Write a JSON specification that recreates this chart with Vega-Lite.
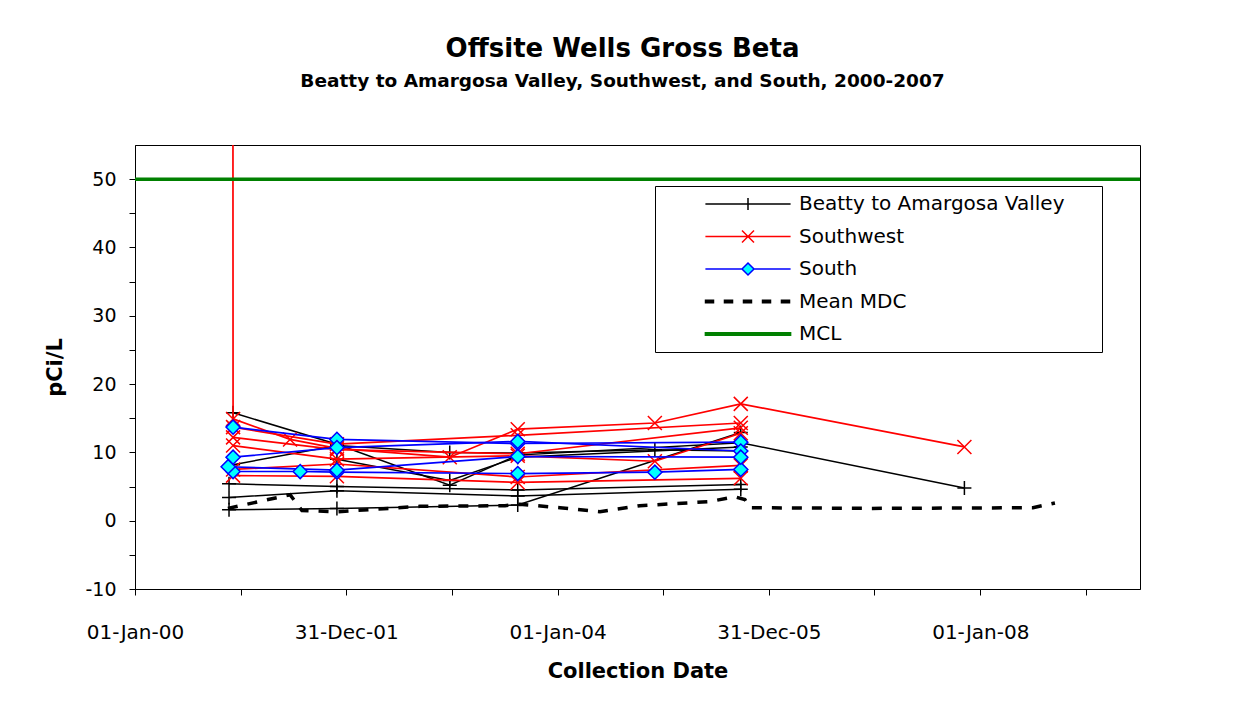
{
  "$schema": "https://vega.github.io/schema/vega-lite/v6.json",
  "autosize": "none",
  "width": 1005,
  "height": 444,
  "padding": {"left": 135, "top": 145, "right": 95, "bottom": 117},
  "background": "#ffffff",
  "title": {
    "text": "Offsite Wells Gross Beta",
    "subtitle": "Beatty to Amargosa Valley, Southwest, and South, 2000-2007",
    "anchor": "middle",
    "frame": "group",
    "dx": -15,
    "offset": 55,
    "font": "DejaVu Sans",
    "fontSize": 26,
    "fontWeight": "bold",
    "color": "#000000",
    "subtitleFont": "DejaVu Sans",
    "subtitleFontSize": 18.5,
    "subtitleFontWeight": "bold",
    "subtitleColor": "#000000",
    "subtitlePadding": 10
  },
  "data": {
    "values": [
      {"series": "Beatty to Amargosa Valley", "well": "B1", "date": "2000-12-05", "value": 15.8},
      {"series": "Beatty to Amargosa Valley", "well": "B1", "date": "2001-11-29", "value": 11.2},
      {"series": "Beatty to Amargosa Valley", "well": "B1", "date": "2002-12-24", "value": 5.2},
      {"series": "Beatty to Amargosa Valley", "well": "B1", "date": "2003-08-16", "value": 9.6},
      {"series": "Beatty to Amargosa Valley", "well": "B1", "date": "2005-09-25", "value": 11.4},
      {"series": "Beatty to Amargosa Valley", "well": "B1", "date": "2007-11-07", "value": 4.8},
      {"series": "Beatty to Amargosa Valley", "well": "B2", "date": "2000-12-05", "value": 8.2},
      {"series": "Beatty to Amargosa Valley", "well": "B2", "date": "2001-11-29", "value": 11.0},
      {"series": "Beatty to Amargosa Valley", "well": "B2", "date": "2002-12-24", "value": 10.0},
      {"series": "Beatty to Amargosa Valley", "well": "B2", "date": "2003-08-16", "value": 9.9},
      {"series": "Beatty to Amargosa Valley", "well": "B2", "date": "2004-12-02", "value": 10.4},
      {"series": "Beatty to Amargosa Valley", "well": "B2", "date": "2005-09-25", "value": 10.2},
      {"series": "Beatty to Amargosa Valley", "well": "B3", "date": "2001-11-29", "value": 9.0},
      {"series": "Beatty to Amargosa Valley", "well": "B3", "date": "2002-12-24", "value": 5.9},
      {"series": "Beatty to Amargosa Valley", "well": "B3", "date": "2003-08-16", "value": 9.3},
      {"series": "Beatty to Amargosa Valley", "well": "B3", "date": "2005-09-25", "value": 10.8},
      {"series": "Beatty to Amargosa Valley", "well": "B4", "date": "2000-11-21", "value": 5.4},
      {"series": "Beatty to Amargosa Valley", "well": "B4", "date": "2001-11-29", "value": 5.0},
      {"series": "Beatty to Amargosa Valley", "well": "B4", "date": "2003-08-16", "value": 4.5},
      {"series": "Beatty to Amargosa Valley", "well": "B4", "date": "2005-09-25", "value": 5.3},
      {"series": "Beatty to Amargosa Valley", "well": "B5", "date": "2000-11-21", "value": 3.4},
      {"series": "Beatty to Amargosa Valley", "well": "B5", "date": "2001-11-29", "value": 4.4},
      {"series": "Beatty to Amargosa Valley", "well": "B5", "date": "2003-08-16", "value": 3.6},
      {"series": "Beatty to Amargosa Valley", "well": "B5", "date": "2005-09-25", "value": 4.6},
      {"series": "Beatty to Amargosa Valley", "well": "B6", "date": "2000-11-21", "value": 1.6},
      {"series": "Beatty to Amargosa Valley", "well": "B6", "date": "2001-11-29", "value": 1.8},
      {"series": "Beatty to Amargosa Valley", "well": "B6", "date": "2003-08-16", "value": 2.3},
      {"series": "Beatty to Amargosa Valley", "well": "B6", "date": "2005-09-25", "value": 12.9},
      {"series": "Southwest", "well": "S1", "date": "2000-12-04", "value": 120},
      {"series": "Southwest", "well": "S1", "date": "2000-12-05", "value": 14.9},
      {"series": "Southwest", "well": "S1", "date": "2001-06-20", "value": 11.9},
      {"series": "Southwest", "well": "S1", "date": "2001-11-29", "value": 10.6},
      {"series": "Southwest", "well": "S1", "date": "2002-12-24", "value": 9.3},
      {"series": "Southwest", "well": "S1", "date": "2003-08-16", "value": 13.4},
      {"series": "Southwest", "well": "S1", "date": "2004-12-02", "value": 14.3},
      {"series": "Southwest", "well": "S1", "date": "2005-09-25", "value": 17.1},
      {"series": "Southwest", "well": "S1", "date": "2007-11-07", "value": 10.8},
      {"series": "Southwest", "well": "S2", "date": "2000-12-05", "value": 13.7},
      {"series": "Southwest", "well": "S2", "date": "2001-11-29", "value": 11.2},
      {"series": "Southwest", "well": "S2", "date": "2003-08-16", "value": 12.5},
      {"series": "Southwest", "well": "S2", "date": "2005-09-25", "value": 14.3},
      {"series": "Southwest", "well": "S3", "date": "2000-12-05", "value": 12.2},
      {"series": "Southwest", "well": "S3", "date": "2001-11-29", "value": 10.4},
      {"series": "Southwest", "well": "S3", "date": "2003-08-16", "value": 9.8},
      {"series": "Southwest", "well": "S3", "date": "2005-09-25", "value": 13.6},
      {"series": "Southwest", "well": "S4", "date": "2000-12-05", "value": 11.0},
      {"series": "Southwest", "well": "S4", "date": "2001-11-29", "value": 9.0},
      {"series": "Southwest", "well": "S4", "date": "2003-08-16", "value": 9.5},
      {"series": "Southwest", "well": "S4", "date": "2004-12-02", "value": 8.7},
      {"series": "Southwest", "well": "S4", "date": "2005-09-25", "value": 12.8},
      {"series": "Southwest", "well": "S5", "date": "2000-12-05", "value": 7.5},
      {"series": "Southwest", "well": "S5", "date": "2001-11-29", "value": 8.3},
      {"series": "Southwest", "well": "S5", "date": "2003-08-16", "value": 6.4},
      {"series": "Southwest", "well": "S5", "date": "2005-09-25", "value": 8.1},
      {"series": "Southwest", "well": "S6", "date": "2000-12-05", "value": 6.6},
      {"series": "Southwest", "well": "S6", "date": "2001-11-29", "value": 6.5},
      {"series": "Southwest", "well": "S6", "date": "2003-08-16", "value": 5.6},
      {"series": "Southwest", "well": "S6", "date": "2005-09-25", "value": 6.2},
      {"series": "South", "well": "So1", "date": "2000-12-05", "value": 13.7},
      {"series": "South", "well": "So1", "date": "2001-11-29", "value": 11.9},
      {"series": "South", "well": "So1", "date": "2003-08-16", "value": 11.3},
      {"series": "South", "well": "So1", "date": "2005-09-25", "value": 11.5},
      {"series": "South", "well": "So2", "date": "2000-12-05", "value": 9.3},
      {"series": "South", "well": "So2", "date": "2001-11-29", "value": 10.7},
      {"series": "South", "well": "So2", "date": "2003-08-16", "value": 11.6},
      {"series": "South", "well": "So2", "date": "2005-09-25", "value": 10.2},
      {"series": "South", "well": "So3", "date": "2000-12-05", "value": 7.2},
      {"series": "South", "well": "So3", "date": "2001-07-25", "value": 7.2},
      {"series": "South", "well": "So3", "date": "2001-11-29", "value": 7.1},
      {"series": "South", "well": "So3", "date": "2003-08-16", "value": 6.9},
      {"series": "South", "well": "So3", "date": "2004-12-02", "value": 7.1},
      {"series": "South", "well": "So3", "date": "2005-09-25", "value": 7.5},
      {"series": "South", "well": "So4", "date": "2000-11-18", "value": 7.9},
      {"series": "South", "well": "So4", "date": "2001-11-29", "value": 7.4},
      {"series": "South", "well": "So4", "date": "2003-08-16", "value": 9.4},
      {"series": "South", "well": "So4", "date": "2005-09-25", "value": 9.3},
      {"series": "Mean MDC", "well": "MDC", "date": "2000-11-17", "value": 1.8},
      {"series": "Mean MDC", "well": "MDC", "date": "2001-06-20", "value": 3.8},
      {"series": "Mean MDC", "well": "MDC", "date": "2001-07-31", "value": 1.5},
      {"series": "Mean MDC", "well": "MDC", "date": "2001-11-26", "value": 1.3},
      {"series": "Mean MDC", "well": "MDC", "date": "2002-09-12", "value": 2.1},
      {"series": "Mean MDC", "well": "MDC", "date": "2003-07-03", "value": 2.2},
      {"series": "Mean MDC", "well": "MDC", "date": "2003-08-23", "value": 2.4},
      {"series": "Mean MDC", "well": "MDC", "date": "2004-01-09", "value": 1.9},
      {"series": "Mean MDC", "well": "MDC", "date": "2004-05-26", "value": 1.3},
      {"series": "Mean MDC", "well": "MDC", "date": "2004-10-11", "value": 2.2},
      {"series": "Mean MDC", "well": "MDC", "date": "2005-06-10", "value": 2.8},
      {"series": "Mean MDC", "well": "MDC", "date": "2005-09-04", "value": 3.5},
      {"series": "Mean MDC", "well": "MDC", "date": "2005-10-09", "value": 3.1},
      {"series": "Mean MDC", "well": "MDC", "date": "2005-10-26", "value": 1.9},
      {"series": "Mean MDC", "well": "MDC", "date": "2006-12-15", "value": 1.8},
      {"series": "Mean MDC", "well": "MDC", "date": "2008-07-01", "value": 1.9},
      {"series": "Mean MDC", "well": "MDC", "date": "2008-09-15", "value": 2.6},
      {"series": "MCL", "well": "MCL", "date": "2000-01-01", "value": 50},
      {"series": "MCL", "well": "MCL", "date": "2009-07-06", "value": 50}
    ]
  },
  "encoding": {
    "x": {
      "field": "date",
      "type": "temporal",
      "title": "Collection Date",
      "scale": {
        "type": "utc",
        "domain": [
          {"year": 2000, "month": 1, "date": 1, "utc": true},
          {"year": 2009, "month": 7, "date": 6, "utc": true}
        ]
      },
      "axis": {
        "values": [
          {"year": 2000, "month": 1, "date": 1, "utc": true},
          {"year": 2000, "month": 12, "date": 31, "utc": true},
          {"year": 2001, "month": 12, "date": 31, "utc": true},
          {"year": 2002, "month": 12, "date": 31, "utc": true},
          {"year": 2004, "month": 1, "date": 1, "utc": true},
          {"year": 2004, "month": 12, "date": 31, "utc": true},
          {"year": 2005, "month": 12, "date": 31, "utc": true},
          {"year": 2006, "month": 12, "date": 31, "utc": true},
          {"year": 2008, "month": 1, "date": 1, "utc": true},
          {"year": 2008, "month": 12, "date": 31, "utc": true}
        ],
        "format": "%d-%b-%y",
        "labelExpr": "indexof(['01-Jan-00','31-Dec-01','01-Jan-04','31-Dec-05','01-Jan-08'], datum.label) >= 0 ? datum.label : ''",
        "labelFlush": false,
        "labelOverlap": false,
        "labelFontSize": 20,
        "grid": false,
        "tickSize": 6,
        "labelPadding": 27,
        "titlePadding": 18
      }
    },
    "y": {
      "field": "value",
      "type": "quantitative",
      "title": "pCi/L",
      "scale": {"domain": [-10, 55], "nice": false, "zero": false},
      "axis": {
        "values": [-10, -5, 0, 5, 10, 15, 20, 25, 30, 35, 40, 45, 50],
        "labelExpr": "datum.value % 10 === 0 ? '' + datum.value : ''",
        "labelFontSize": 19,
        "grid": false,
        "tickSize": 6,
        "labelPadding": 13,
        "titlePadding": 19
      }
    }
  },
  "layer": [
    {
      "transform": [{"filter": "datum.series === 'Beatty to Amargosa Valley'"}],
      "mark": {"type": "line", "color": "#000000", "strokeWidth": 1.5, "clip": true},
      "encoding": {"detail": {"field": "well"}}
    },
    {
      "transform": [{"filter": "datum.series === 'Beatty to Amargosa Valley'"}],
      "mark": {"type": "point", "shape": "M-1,0H1M0,-1V1", "size": 196, "filled": false, "color": "#000000", "stroke": "#000000", "strokeWidth": 1.5, "opacity": 1, "clip": true}
    },
    {
      "transform": [{"filter": "datum.series === 'Southwest'"}],
      "mark": {"type": "line", "color": "#ff0000", "strokeWidth": 1.7, "clip": true},
      "encoding": {"detail": {"field": "well"}}
    },
    {
      "transform": [{"filter": "datum.series === 'Southwest'"}],
      "mark": {"type": "point", "shape": "M-1,-1L1,1M-1,1L1,-1", "size": 196, "filled": false, "color": "#ff0000", "stroke": "#ff0000", "strokeWidth": 1.5, "opacity": 1, "clip": true}
    },
    {
      "transform": [{"filter": "datum.series === 'South'"}],
      "mark": {"type": "line", "color": "#0000ff", "strokeWidth": 1.7, "clip": true},
      "encoding": {"detail": {"field": "well"}}
    },
    {
      "transform": [{"filter": "datum.series === 'South'"}],
      "mark": {"type": "point", "shape": "diamond", "size": 200, "filled": true, "fill": "#00ffff", "stroke": "#0000ff", "strokeWidth": 1.5, "opacity": 1, "clip": true}
    },
    {
      "transform": [{"filter": "datum.series === 'Mean MDC'"}],
      "mark": {"type": "line", "color": "#000000", "strokeWidth": 3.5, "strokeDash": [10, 10], "strokeCap": "butt", "clip": true},
      "encoding": {}
    },
    {
      "transform": [{"filter": "datum.series === 'MCL'"}],
      "mark": {"type": "line", "color": "#008000", "strokeWidth": 3.5, "clip": true},
      "encoding": {}
    },
    {
      "data": {
        "values": [
          {"series": "Beatty to Amargosa Valley"},
          {"series": "Southwest"},
          {"series": "South"},
          {"series": "Mean MDC"},
          {"series": "MCL"}
        ]
      },
      "mark": {"type": "point", "filled": true, "size": 144, "opacity": 1, "strokeWidth": 1.5, "invalid": "filter"},
      "encoding": {
        "shape": {
          "field": "series",
          "type": "nominal",
          "scale": {
            "domain": ["Beatty to Amargosa Valley", "Southwest", "South", "Mean MDC", "MCL"],
            "range": [
              "M-7.1,0H7.1M0,-1V1",
              "M-7.1,0H7.1M-1,-1L1,1M-1,1L1,-1",
              "M-7.1,0H-1M1,0H7.1M-1,0L0,-1L1,0L0,1Z",
              "M-7.08,-0.2H-5.75V0.2H-7.08ZM-3.92,-0.2H-2.58V0.2H-3.92ZM-0.75,-0.2H0.58V0.2H-0.75ZM2.42,-0.2H3.75V0.2H2.42ZM5.58,-0.2H6.92V0.2H5.58Z",
              "M-7.1,-0.2H7.1V0.2H-7.1Z"
            ]
          },
          "legend": {
            "orient": "none",
            "legendX": 520,
            "legendY": 41,
            "title": "\u00a0",
            "titleOrient": "left",
            "titleFontSize": 10,
            "titlePadding": 75,
            "padding": 8,
            "strokeColor": "#000000",
            "fillColor": "#ffffff",
            "labelFont": "DejaVu Sans",
            "labelFontSize": 20,
            "labelColor": "#000000",
            "labelOffset": 41,
            "labelLimit": 600,
            "rowPadding": 12.5,
            "symbolSize": 144,
            "symbolStrokeWidth": 1.5,
            "labelExpr": "datum.label === 'Beatty to Amargosa Valley' ? datum.label + '\u2800\u2800' : datum.label"
          }
        },
        "stroke": {
          "field": "series",
          "type": "nominal",
          "scale": {
            "domain": ["Beatty to Amargosa Valley", "Southwest", "South", "Mean MDC", "MCL"],
            "range": ["#000000", "#ff0000", "#0000ff", "#000000", "#008000"]
          }
        },
        "fill": {
          "field": "series",
          "type": "nominal",
          "scale": {
            "domain": ["Beatty to Amargosa Valley", "Southwest", "South", "Mean MDC", "MCL"],
            "range": ["transparent", "transparent", "#00ffff", "#000000", "#008000"]
          }
        }
      }
    }
  ],
  "config": {
    "font": "DejaVu Sans",
    "view": {"stroke": "#000000", "strokeWidth": 1},
    "axis": {
      "domainColor": "#000000",
      "tickColor": "#000000",
      "labelColor": "#000000",
      "titleColor": "#000000",
      "labelFont": "DejaVu Sans",
      "labelFontSize": 18,
      "titleFont": "DejaVu Sans",
      "titleFontSize": 21,
      "titleFontWeight": "bold"
    }
  }
}
